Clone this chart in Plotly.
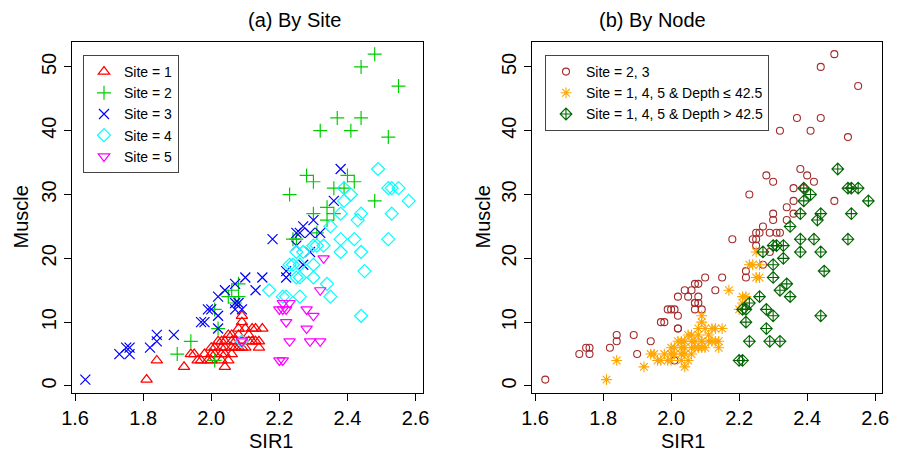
import plotly.graph_objects as go

# ---- data (SIR1 vs Muscle) ----
site1_x = [1.81, 1.84, 1.92, 1.94, 1.95,
           1.96, 1.97, 1.99, 2.00, 2.03, 2.05,
           1.98, 2.00, 2.01, 2.03, 2.04, 2.06,
           2.00, 2.01, 2.03, 2.04, 2.06, 2.07, 2.08, 2.10, 2.14,
           2.03, 2.04, 2.06, 2.07, 2.11, 2.13, 2.14, 2.02, 2.12,
           2.08, 2.11, 2.05, 2.06,
           2.08, 2.12, 2.13, 2.15, 2.10,
           2.09, 2.09, 2.04, 2.09]
site1_y = [1, 4, 3, 5, 5,
           4, 4, 4, 4, 4, 4,
           5, 5, 5, 5, 5, 5,
           6, 6, 6, 6, 6, 6, 6, 6, 6,
           7, 7, 7, 7, 7, 7, 7, 7, 7,
           8, 8, 8, 8,
           9, 9, 9, 9, 9,
           11, 10, 3, 6]

site2_x = [2.48, 2.44, 2.55, 2.37, 2.44, 2.32, 2.41, 2.52, 2.28, 2.30, 2.40,
           2.42, 2.36, 2.39, 2.23, 2.48, 2.34, 2.30, 2.36, 2.34, 2.31, 2.24,
           2.25, 2.08, 2.06, 2.05, 2.08, 2.01, 2.02, 1.94, 1.90, 2.01, 2.07]
site2_y = [52, 50, 47, 42, 42, 40, 40, 39, 33, 32, 33,
           32, 31, 31, 30, 29, 28, 27, 27, 26, 24, 23,
           23, 16, 15, 14, 14, 12, 9, 7, 5, 4, 13]

site3_x = [1.63, 1.73, 1.75, 1.76, 1.76, 1.82, 1.84, 1.84, 1.89, 1.97, 1.98,
           2.00, 2.02, 2.02, 1.99, 2.07, 2.08, 2.09, 2.02, 2.04, 2.07, 2.10,
           2.15, 2.13, 2.18, 2.22, 2.22, 2.25, 2.25, 2.26, 2.27, 2.29, 2.32,
           2.30, 2.29, 2.27, 2.36, 2.38, 2.07]
site3_y = [1, 5, 6, 6, 5, 6, 8, 7, 8, 10, 10,
           12, 11, 9, 12, 13, 13, 12, 14, 15, 16, 17,
           17, 15, 23, 18, 17, 22, 24, 24, 25, 24, 24,
           26, 21, 19, 29, 34, 12]

site4_x = [2.49, 2.52, 2.53, 2.55, 2.39, 2.41, 2.39, 2.58, 2.38, 2.44, 2.53,
           2.43, 2.35, 2.38, 2.42, 2.52, 2.30, 2.31, 2.33, 2.38, 2.44, 2.27,
           2.25, 2.24, 2.26, 2.30, 2.23, 2.45, 2.30, 2.26, 2.25, 2.34, 2.35,
           2.26, 2.21, 2.22, 2.17, 2.44, 2.09]
site4_y = [34, 31, 31, 31, 31, 30, 29, 29, 27, 27, 27,
           26, 25, 23, 23, 23, 22, 22, 22, 21, 21, 21,
           21, 19, 19, 19, 19, 18, 17, 17, 17, 16, 14,
           14, 14, 14, 15, 11, 7]
# depth > 42.5 flags for site 4 (1 = deep)
site4_deep = [1, 1, 1, 1, 1, 1, 1, 1, 1, 1, 1,
              1, 1, 1, 1, 1, 1, 1, 1, 1, 1, 1,
              0, 0, 0, 1, 0, 1, 1, 0, 0, 1, 1,
              1, 0, 0, 0, 1, 0]

site5_x = [2.20, 2.21, 2.22, 2.21, 2.23, 2.28, 2.30, 2.22, 2.28, 2.23, 2.29,
           2.32, 2.20, 2.21, 2.32, 2.33, 2.09]
site5_y = [12, 12, 12, 13, 13, 12, 11, 10, 9, 7, 7,
           7, 4, 4, 15, 20, 7]
site5_deep = [0, 1, 1, 0, 1, 1, 1, 1, 1, 1, 1,
              1, 1, 1, 1, 1, 0]

site_names = ["Site = 1", "Site = 2", "Site = 3", "Site = 4", "Site = 5"]
node_names = ["Site = 2, 3", "Site = 1, 4, 5 & Depth \u2264 42.5",
              "Site = 1, 4, 5 & Depth > 42.5"]

FONT = "Liberation Sans, Arial, Helvetica, sans-serif"

fig = go.Figure()

# ---- panel (a): by site ----
site_styles = [
    (site1_x, site1_y, "#FF0000", "triangle-up-open"),
    (site2_x, site2_y, "#00CD00", "cross-thin-open"),
    (site3_x, site3_y, "#0000FF", "x-thin-open"),
    (site4_x, site4_y, "#00FFFF", "diamond-open"),
    (site5_x, site5_y, "#FF00FF", "triangle-down-open"),
]
for (xs, ys, col, sym), name in zip(site_styles, site_names):
    fig.add_trace(go.Scatter(
        x=xs, y=ys, mode="markers", name=name,
        marker=dict(symbol=sym, color=col, size=10,
                    line=dict(color=col, width=1.2)),
        xaxis="x", yaxis="y", legend="legend",
    ))

# ---- panel (b): by node ----
x23 = site2_x + site3_x
y23 = site2_y + site3_y
shallow_x = site1_x + [x for x, d in zip(site4_x, site4_deep) if not d] \
    + [x for x, d in zip(site5_x, site5_deep) if not d]
shallow_y = site1_y + [y for y, d in zip(site4_y, site4_deep) if not d] \
    + [y for y, d in zip(site5_y, site5_deep) if not d]
deep_x = [x for x, d in zip(site4_x, site4_deep) if d] \
    + [x for x, d in zip(site5_x, site5_deep) if d]
deep_y = [y for y, d in zip(site4_y, site4_deep) if d] \
    + [y for y, d in zip(site5_y, site5_deep) if d]

node_styles = [
    (x23, y23, "#A52A2A", "circle-open", 7),
    (shallow_x, shallow_y, "#FFA500", "asterisk-open", 9),
    (deep_x, deep_y, "#006400", "diamond-cross-open", 9),
]
for (xs, ys, col, sym, sz), name in zip(node_styles, node_names):
    fig.add_trace(go.Scatter(
        x=xs, y=ys, mode="markers", name=name,
        marker=dict(symbol=sym, color=col, size=sz,
                    line=dict(color=col, width=1.1)),
        xaxis="x2", yaxis="y2", legend="legend2",
    ))

# the page body has an 8px margin, so the figure is a bit smaller than the
# window and all positions are taken relative to that offset
OFF = 8
W, H = 897 - OFF, 462 - 2 * OFF


def px(x):
    return (x - OFF) / W


def py(y):
    return 1 - (y - OFF) / H


xd1 = [px(71.7), px(422.7)]
xd2 = [px(531.7), px(882.3)]
yd = [py(393), py(42)]

xaxis_common = dict(range=[1.590, 2.621], tickvals=[1.6, 1.8, 2.0, 2.2, 2.4, 2.6],
                    ticktext=["1.6", "1.8", "2.0", "2.2", "2.4", "2.6"],
                    showline=True, mirror=True, linecolor="black", linewidth=1,
                    ticks="outside", ticklen=7, tickcolor="black",
                    showgrid=False, zeroline=False, automargin=False,
                    tickfont=dict(size=20, color="black", family=FONT))
yaxis_common = dict(range=[-1.1, 53.9], tickvals=[0, 10, 20, 30, 40, 50],
                    showline=True, mirror=True, linecolor="black", linewidth=1,
                    ticks="outside", ticklen=7, tickcolor="black",
                    showgrid=False, zeroline=False, tickangle=-90,
                    automargin=False,
                    tickfont=dict(size=20, color="black", family=FONT))

legend_common = dict(bgcolor="white", bordercolor="#444", borderwidth=1,
                     font=dict(size=14, color="black", family=FONT),
                     xanchor="left", yanchor="top", tracegroupgap=0,
                     itemwidth=30)

fig.update_layout(
    width=W, height=H,
    margin=dict(l=0, r=0, t=0, b=0, autoexpand=False),
    paper_bgcolor="white", plot_bgcolor="white",
    font=dict(family=FONT, color="black"),
    xaxis=dict(domain=xd1, anchor="y", **xaxis_common),
    yaxis=dict(domain=yd, anchor="x", **yaxis_common),
    xaxis2=dict(domain=xd2, anchor="y2", **xaxis_common),
    yaxis2=dict(domain=yd, anchor="x2", **yaxis_common),
    legend=dict(x=px(83), y=py(55), **legend_common),
    legend2=dict(x=px(545), y=py(55), **legend_common),
    annotations=[
        dict(text="(a) By Site", x=sum(xd1) / 2, y=py(8), yanchor="top",
             xref="paper", yref="paper", showarrow=False, borderpad=0,
             font=dict(size=20)),
        dict(text="(b) By Node", x=sum(xd2) / 2, y=py(8), yanchor="top",
             xref="paper", yref="paper", showarrow=False, borderpad=0,
             font=dict(size=20)),
        dict(text="SIR1", x=sum(xd1) / 2, y=py(441), yanchor="middle",
             xref="paper", yref="paper", showarrow=False, font=dict(size=20)),
        dict(text="SIR1", x=sum(xd2) / 2, y=py(441), yanchor="middle",
             xref="paper", yref="paper", showarrow=False, font=dict(size=20)),
        dict(text="Muscle", x=px(20), y=sum(yd) / 2, xanchor="center",
             xref="paper", yref="paper", showarrow=False, textangle=-90,
             font=dict(size=20)),
        dict(text="Muscle", x=px(482), y=sum(yd) / 2, xanchor="center",
             xref="paper", yref="paper", showarrow=False, textangle=-90,
             font=dict(size=20)),
    ],
)

fig.write_html("out.html")
